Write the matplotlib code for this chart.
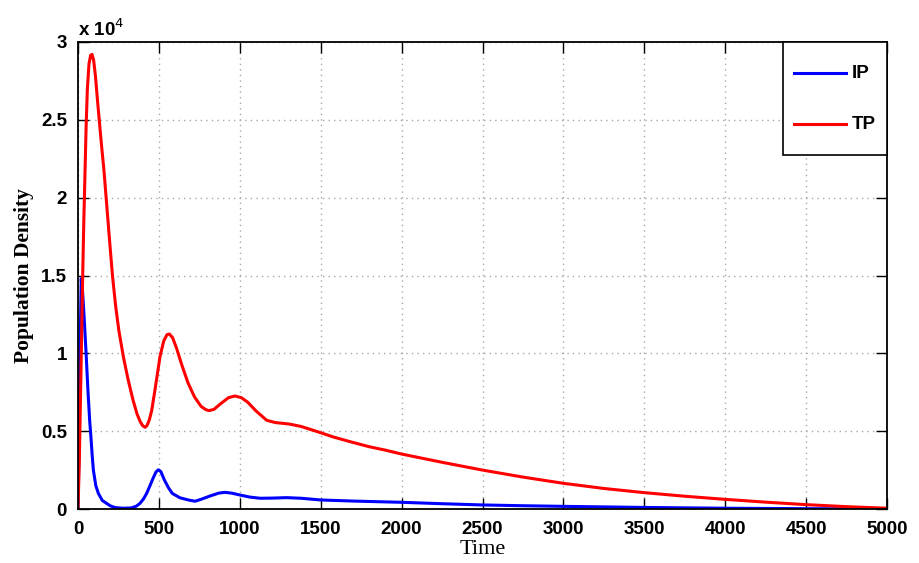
import matplotlib
matplotlib.use("Agg")
import matplotlib.pyplot as plt
from matplotlib.lines import Line2D
from matplotlib.patches import Rectangle

# ---- data ----
tp_t = [0, 8, 16, 23, 29, 36, 43, 50, 58, 68, 78, 87, 97, 108, 120, 133, 145, 160, 177,
        197, 213, 233, 252, 280, 310, 340, 365, 385, 400, 414, 426, 440, 455, 475, 507,
        530, 550, 565, 585, 610, 640, 680, 720, 760, 790, 810, 840, 880, 930, 970, 1010,
        1050, 1100, 1166, 1220, 1270, 1310, 1380, 1440, 1500, 1580, 1680, 1800, 1900,
        2000, 2250, 2500, 2750, 3000, 3250, 3500, 3750, 4000, 4250, 4500, 4750, 5000]
tp_v = [0, 3000, 7500, 11500, 15000, 18500, 21500, 24500, 27000, 28600, 29150, 29200,
        28800, 27800, 26300, 24800, 23400, 21800, 19600, 17000, 15000, 13000, 11500,
        9800, 8300, 7000, 6100, 5600, 5350, 5250, 5350, 5700, 6300, 7600, 9800, 10800,
        11200, 11240, 11000, 10300, 9300, 8100, 7200, 6600, 6380, 6320, 6400, 6750, 7150,
        7260, 7150, 6850, 6300, 5700, 5550, 5500, 5450, 5300, 5100, 4900, 4620, 4330,
        4000, 3780, 3530, 3000, 2500, 2050, 1650, 1320, 1050, 820, 620, 440, 280, 150, 50]

ip_t = [0, 5, 10, 15, 20, 28, 38, 50, 62, 72, 80, 88, 95, 110, 126, 150, 177, 200, 230,
        280, 330, 360, 383, 405, 424, 445, 465, 482, 497, 512, 534, 560, 583, 630, 682,
        723, 760, 820, 870, 908, 950, 1000, 1060, 1125, 1200, 1290, 1380, 1500, 1700,
        2000, 2250, 2500, 2750, 3000, 3500, 4000, 4500, 5000]
ip_v = [0, 3000, 7000, 11500, 14800, 14000, 12300, 10000, 7500, 5700, 4600, 3400,
        2500, 1500, 1000, 550, 360, 200, 90, 50, 70, 180, 360, 650, 1000, 1500, 2000,
        2380, 2520, 2400, 1860, 1350, 1000, 720, 580, 500, 620, 850, 1020, 1070, 1020,
        900, 770, 690, 700, 730, 690, 580, 510, 430, 340, 260, 210, 170, 100, 50, 20, 5]

xticks = [0, 500, 1000, 1500, 2000, 2500, 3000, 3500, 4000, 4500, 5000]
yticks = [0, 5000, 10000, 15000, 20000, 25000, 30000]
ytick_labels = ['0', '0.5', '1', '1.5', '2', '2.5', '3']
series_names = ['IP', 'TP']
series_colors = [(0, 0, 1), (1, 0, 0)]

# ---- figure ----
fig = plt.figure(figsize=(9.19, 5.63), dpi=100)
ax = fig.add_axes([78 / 919, 54 / 563, 809 / 919, 467 / 563])

ax.plot(ip_t, ip_v, color=series_colors[0], lw=2.2, solid_joinstyle='round')
ax.plot(tp_t, tp_v, color=series_colors[1], lw=2.2, solid_joinstyle='round')

ax.set_xlim(0, 5000)
ax.set_ylim(0, 30000)
ax.set_xticks(xticks)
ax.set_xticklabels([str(x) for x in xticks])
ax.set_yticks(yticks)
ax.set_yticklabels(ytick_labels)

TS = 13.5
for lab in ax.get_xticklabels() + ax.get_yticklabels():
    lab.set_fontfamily('Liberation Sans')
    lab.set_fontweight('bold')
    lab.set_fontsize(TS)

ax.tick_params(direction='in', length=8, width=1, top=True, right=True,
               colors='black')
ax.tick_params(axis='x', pad=9)
ax.tick_params(axis='y', pad=8)
for s in ax.spines.values():
    s.set_linewidth(1.3)
    s.set_color('black')

ax.grid(True, color='#a8a8a8', linestyle=(0, (1, 3)), linewidth=1.0)
ax.set_axisbelow(True)

ax.set_xlabel('Time', family='Liberation Serif', fontsize=16, labelpad=1)
ax.set_ylabel('Population Density', family='Liberation Serif', fontweight='bold',
              fontsize=15.5, labelpad=5)

ax.text(0.0, 1.004, r'x 10$^{4}$', transform=ax.transAxes, ha='left', va='bottom',
        family='Liberation Sans', weight='bold', size=TS)

# ---- legend box (MATLAB style), placed in axes fraction ----
box_x0, box_y0 = 0.8714, 0.758
ax.add_patch(Rectangle((box_x0, box_y0), 1 - box_x0, 1 - box_y0, transform=ax.transAxes,
                       facecolor='white', edgecolor='black', lw=1.2, zorder=5,
                       clip_on=False))
row_y = [0.9336, 0.8244]
for name, col, yy in zip(series_names, series_colors, row_y):
    ax.add_line(Line2D([0.8851, 0.9493], [yy, yy], transform=ax.transAxes,
                       color=col, lw=2.2, zorder=6))
    ax.text(0.9567, yy, name, transform=ax.transAxes, ha='left', va='center',
            family='Liberation Sans', weight='bold', size=TS, zorder=6)

fig.savefig('out.png', dpi=100)
